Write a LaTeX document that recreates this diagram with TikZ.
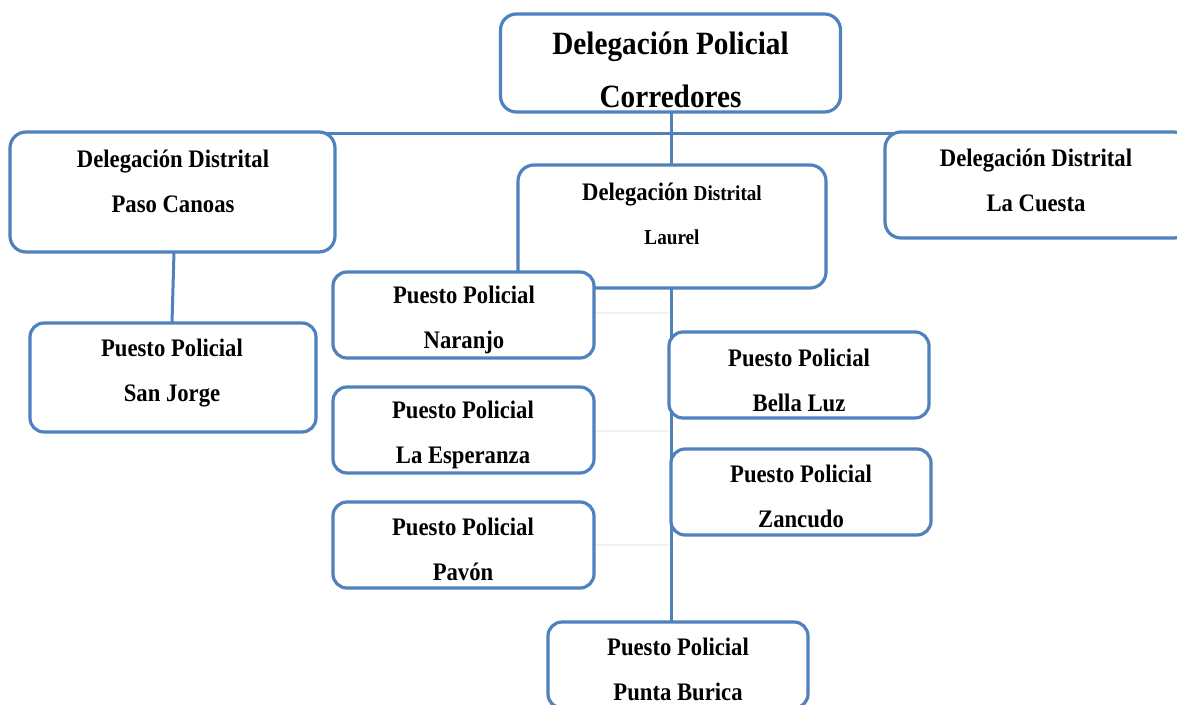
\documentclass[tikz,border=0pt]{standalone}
\usepackage{fontspec}
\setmainfont{Liberation Serif}
\newfontfamily\tallfont[FakeStretch=0.9]{Liberation Serif}
\definecolor{boxblue}{RGB}{79,129,189}
\definecolor{faint}{RGB}{240,240,240}
\begin{document}
\begin{tikzpicture}[x=1pt,y=-1pt,
 box/.style={draw=boxblue, line width=3.2pt, rounded corners=14pt, fill=white, inner sep=0pt},
 conn/.style={draw=boxblue, line width=3pt},
 faintline/.style={draw=faint, line width=1.5pt},
 bigtxt/.style={font=\tallfont\bfseries\fontsize{32.5}{53}\selectfont, align=center, inner sep=0pt},
 midtxt/.style={font=\tallfont\bfseries\fontsize{25.2}{45}\selectfont, align=center, inner sep=0pt},
]
\useasboundingbox (0,0) rectangle (1177,704);
\clip (0,0) rectangle (1177,704);
% connectors (drawn first)
\coordinate (busL) at (172,133);
\coordinate (busR) at (1185,133);
\coordinate (trunkT) at (671,288);
\coordinate (trunkB) at (671,622);
\draw[conn] (busL) -- (busR);
\draw[conn] (671,112) coordinate (topS) -- (671,165) coordinate (laurN);
\draw[conn] (174,252) coordinate (pasoS) -- (172,323) coordinate (sjN);
\draw[conn] (trunkT) -- (trunkB);
\draw[faintline] (595,313) coordinate (naE) -- (669,313) coordinate (naT);
\draw[faintline] (595,431) coordinate (esE) -- (669,431) coordinate (esT);
\draw[faintline] (595,545) coordinate (paE) -- (669,545) coordinate (paT);
% boxes
\node[box, rounded corners=16pt, minimum width=340pt, minimum height=98pt] (top) at (670.5,63) {};
\node[box, rounded corners=16pt, minimum width=325pt, minimum height=120pt] (paso) at (172.5,192) {};
\node[box, rounded corners=16pt, minimum width=308pt, minimum height=123pt] (laurel) at (672,226.5) {};
\node[box, rounded corners=16pt, minimum width=305pt, minimum height=106pt] (cuesta) at (1037.5,185) {};
\node[box, minimum width=286pt, minimum height=109pt] (sanjorge) at (173,377.5) {};
\node[box, minimum width=261pt, minimum height=86pt] (naranjo) at (463.5,315) {};
\node[box, minimum width=261pt, minimum height=86pt] (esperanza) at (463.5,430) {};
\node[box, minimum width=261pt, minimum height=86pt] (pavon) at (463.5,545) {};
\node[box, minimum width=260pt, minimum height=86pt] (bellaluz) at (799,375) {};
\node[box, minimum width=260pt, minimum height=86pt] (zancudo) at (801,492) {};
\node[box, minimum width=260pt, minimum height=86pt] (punta) at (678,665) {};
% texts
\node[bigtxt] (top-t) at (670.5,70) {Delegación Policial\\Corredores};
\node[midtxt] (paso-t) at (173,181) {Delegación Distrital\\Paso Canoas};
\node[midtxt, font=\tallfont\bfseries\fontsize{25.2}{44}\selectfont] (laurel-t) at (672,213.5) {Delegación {\fontsize{21.3}{44}\selectfont Distrital}\\{\fontsize{21.3}{44}\selectfont Laurel}};
\node[midtxt] (cuesta-t) at (1036,180) {Delegación Distrital\\La Cuesta};
\node[midtxt] (sanjorge-t) at (172,373) {Puesto Policial\\San Jorge};
\node[midtxt] (naranjo-t) at (464,319.5) {Puesto Policial\\Naranjo};
\node[midtxt] (esperanza-t) at (463,434.5) {Puesto Policial\\La Esperanza};
\node[midtxt] (pavon-t) at (463,549) {Puesto Policial\\Pavón};
\node[midtxt] (bellaluz-t) at (799,380) {Puesto Policial\\Bella Luz};
\node[midtxt] (zancudo-t) at (801,496) {Puesto Policial\\Zancudo};
\node[midtxt] (punta-t) at (678,669) {Puesto Policial\\Punta Burica};
\end{tikzpicture}
\end{document}
